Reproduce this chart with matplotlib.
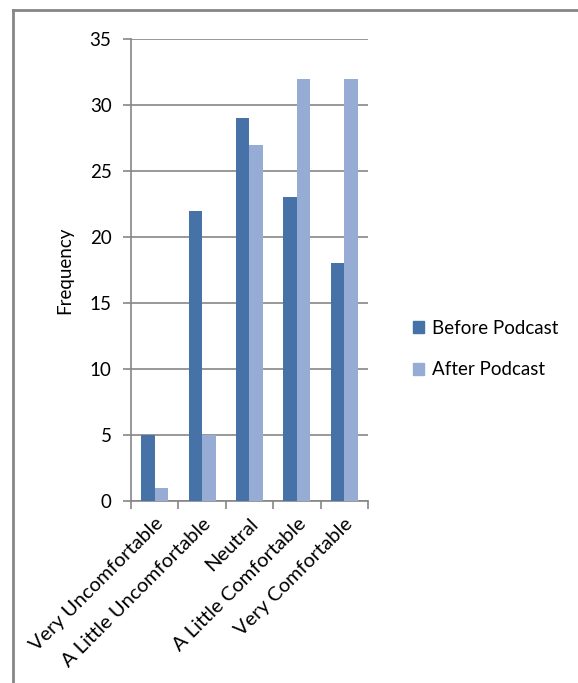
import numpy as np
import matplotlib.pyplot as plt
from matplotlib.lines import Line2D
from matplotlib.patches import Patch

plt.rcParams['font.family'] = ['Lato', 'DejaVu Sans']

categories = ['Very Uncomfortable', 'A Little Uncomfortable', 'Neutral',
              'A Little Comfortable', 'Very Comfortable']
before = [5, 22, 29, 23, 18]
after = [1, 5, 27, 32, 32]
series_names = ['Before Podcast', 'After Podcast']

dark = '#4672A8'
light = '#96ACD4'
grey = '#868686'
fs = 13.5

fig = plt.figure(figsize=(5.78, 6.83), dpi=100)
ax = fig.add_axes([0.2266, 0.2665, 0.41, 0.6764])

# excel style: two bars per group, gap width 150%
x = np.arange(len(categories))
w = 1 / 3.5
ax.bar(x - w / 2, before, width=w, color=dark, zorder=3)
ax.bar(x + w / 2, after, width=w, color=light, zorder=3)

ax.set_xlim(-0.5, len(categories) - 0.5)
ax.set_ylim(0, 35)
ax.set_yticks(range(0, 36, 5))
ax.yaxis.grid(True, color=grey, linewidth=1.2, zorder=0)

for s in ['top', 'right']:
    ax.spines[s].set_visible(False)
for s in ['left', 'bottom']:
    ax.spines[s].set_color(grey)
    ax.spines[s].set_linewidth(1.2)

ax.set_xticks(np.arange(-0.5, len(categories), 1.0))
ax.set_xticklabels([])
ax.set_xticks(x, minor=True)
ax.set_xticklabels(categories, minor=True, rotation=45, ha='right',
                   rotation_mode='anchor', fontsize=14.5)
ax.tick_params(axis='x', which='major', length=6, width=1.2, color=grey)
ax.tick_params(axis='x', which='minor', length=0, pad=10)
ax.tick_params(axis='y', length=6, width=1.2, color=grey, labelsize=fs, pad=8)

ax.set_ylabel('Frequency', fontsize=fs, labelpad=12)

handles = [Patch(color=dark), Patch(color=light)]
fig.legend(handles, series_names, loc='center left',
           bbox_to_anchor=(0.685, 0.489), frameon=False, fontsize=fs,
           handlelength=0.6, handleheight=0.6, handletextpad=0.45,
           labelspacing=1.3)

# outer frame, open on the right and bottom
fig.add_artist(Line2D([13 / 578, 1], [1 - 10 / 683] * 2, transform=fig.transFigure,
                      color=grey, linewidth=2))
fig.add_artist(Line2D([13 / 578] * 2, [0, 1 - 10 / 683], transform=fig.transFigure,
                      color=grey, linewidth=2))

fig.savefig('out.png', dpi=100)
